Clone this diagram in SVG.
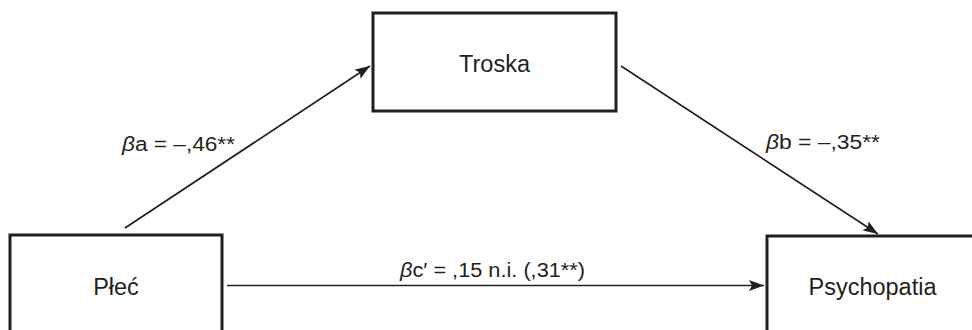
<svg xmlns="http://www.w3.org/2000/svg" width="972" height="330" viewBox="0 0 972 330">
  <style>
    .box { fill: #ffffff; stroke: #231f20; stroke-width: 3; }
    .node-label { font-family: "Liberation Sans", Arial, sans-serif; font-size: 23.5px; fill: #231f20; text-anchor: middle; }
    .edge { stroke: #231f20; stroke-width: 1.7; fill: none; marker-end: url(#arrow); }
    .edge-label { font-family: "Liberation Sans", Arial, sans-serif; font-size: 20.5px; fill: #231f20; }
    .greek { font-style: italic; }
  </style>
  <defs>
    <marker id="arrow" markerUnits="userSpaceOnUse" markerWidth="16" markerHeight="11" refX="15" refY="5.5" orient="auto">
      <path d="M0,0 L15,5.5 L0,11 L3,5.5 z" fill="#231f20"/>
    </marker>
  </defs>
  <rect width="972" height="330" fill="#ffffff"/>

  <g id="connectors">
    <line class="edge" x1="125" y1="228" x2="370" y2="66"/>
    <line class="edge" x1="621" y1="66" x2="878" y2="234"/>
    <line class="edge" x1="227" y1="285.5" x2="764" y2="285.5"/>
  </g>

  <g id="label-a">
    <text class="edge-label" x="122" y="151" textLength="113" lengthAdjust="spacingAndGlyphs"><tspan class="greek">β</tspan>a = –,46**</text>
  </g>
  <g id="label-b">
    <text class="edge-label" x="766" y="149" textLength="114" lengthAdjust="spacingAndGlyphs"><tspan class="greek">β</tspan>b = –,35**</text>
  </g>
  <g id="label-c">
    <text class="edge-label" x="400" y="277" textLength="185" lengthAdjust="spacingAndGlyphs"><tspan class="greek">β</tspan>c′ = ,15 n.i. (,31**)</text>
  </g>

  <g id="node-troska">
    <rect class="box" x="373" y="13" width="243" height="98"/>
    <text class="node-label" x="494.5" y="72">Troska</text>
  </g>
  <g id="node-plec">
    <rect class="box" x="10" y="235" width="212" height="110"/>
    <text class="node-label" x="116" y="295">Płeć</text>
  </g>
  <g id="node-psychopatia">
    <rect class="box" x="767" y="236" width="220" height="110"/>
    <text class="node-label" x="872.5" y="295">Psychopatia</text>
  </g>
</svg>
